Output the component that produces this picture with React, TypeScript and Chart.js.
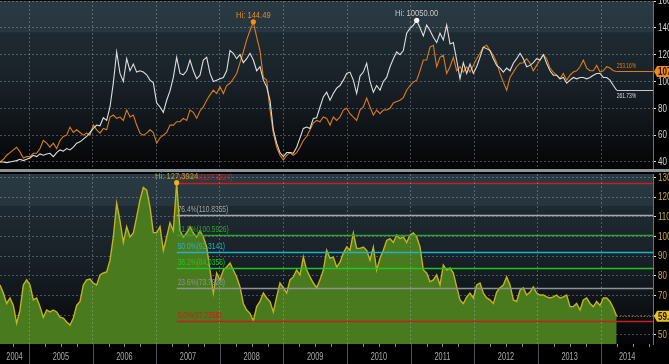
import React, { useEffect, useRef } from "react";
import { Chart, registerables } from "chart.js";

Chart.register(...registerables);

// ---- data ----
const START_YEAR = 2004.544;
const STEP_YEARS = 0.05241;
const X_MAX = 2014.811;

const yearLabels = ["2004", "2005", "2006", "2007", "2008", "2009", "2010", "2011", "2012", "2013", "2014"];
const topTicks = [40, 60, 80, 100, 120, 140, 160];
const bottomTicks = [50, 60, 70, 80, 90, 100, 110, 120, 130];

const whiteSeries = [
  40, 40, 39.5, 40, 40.5, 41, 42, 41, 42, 43,
  45, 44, 46, 45, 46, 46.5, 44, 47, 49, 48,
  50, 49, 51, 54, 55, 57, 59, 62, 65, 67.5,
  67, 73, 71, 81, 99, 122, 106, 100, 117, 108,
  113, 107, 108, 107, 105, 101, 99, 84, 81, 77,
  86, 93, 103, 118, 106, 105, 108, 116, 108, 102,
  104.7, 116, 118, 106, 100, 101, 102, 103, 108, 123,
  121, 117, 120, 114, 117, 121, 116, 108, 111, 101,
  96, 86, 64, 54, 47, 44, 47, 47, 46.5, 51,
  58, 65, 66, 65, 72.5, 73, 81, 88.5, 92, 86,
  91, 95, 97, 101, 106, 107, 101, 91, 104, 107,
  113.6, 100, 92, 97, 93.5, 100, 103, 111, 117, 122,
  120, 123, 136, 139.6, 142, 145.6, 140, 134, 142, 138,
  133, 129, 136, 131, 142, 128, 129, 116, 102, 114,
  106, 113, 106, 111, 118, 125.6, 124.5, 123, 117, 112,
  110, 107, 110, 108, 113.6, 117, 121, 117, 111, 112,
  114, 117, 116, 120, 113.6, 108, 104.7, 104.7, 102, 103,
  98.7, 101, 103, 102, 103, 103, 102, 103, 104.7, 106,
  106, 103, 103, 101, 97, 93.5,
];

const orangeSeries = [
  40, 42, 45, 47, 49, 51, 47.5, 43, 44, 44,
  46.5, 46.5, 50, 56, 54, 51, 54, 50, 56, 59,
  60, 66, 62, 64, 62, 60, 61.5, 60, 67.5, 64,
  61.5, 65, 64, 73.5, 75, 72.5, 73.5, 71, 78.7, 73.5,
  75, 67.5, 61.5, 60, 61.5, 64, 62, 54, 58, 60,
  62, 67.5, 67.5, 70, 70, 72.5, 71, 78.7, 77, 72.5,
  78, 81, 86, 90, 93.5, 91, 96, 91, 97, 98.7,
  102, 106, 114, 122, 131, 138, 144.49, 133, 123, 103,
  101, 78.7, 61.5, 51, 45, 41.5, 45, 47, 45, 47,
  51, 56, 59, 64, 69, 71, 70, 73.5, 72.5, 67.5,
  73.5, 71, 73.5, 78.7, 80, 76, 73.5, 71, 78.7, 81,
  87.6, 81, 75, 78.7, 76, 78.7, 78.7, 80, 84, 85,
  86, 88, 93.5, 97, 99.5, 101, 108, 116, 116, 125.6,
  127, 111, 118, 119.6, 106, 111, 118, 108, 111, 107,
  111, 107, 112, 117, 121, 125.6, 127, 123, 119.6, 114,
  106, 99.5, 93.5, 103, 107, 111, 113.6, 114, 117, 113.6,
  108, 112, 116, 120, 117, 110, 107, 104.7, 102, 106,
  101, 104.7, 107, 108, 111, 116, 110, 108, 108, 112,
  107, 108, 111, 110, 108, 107.5,
];

const ratioSeries = [
  75.4, 71.3, 66, 68.8, 65, 56, 62.7, 75.4, 78, 75.4,
  67.8, 68.8, 64.4, 59, 62.7, 61.7, 62.7, 61.7, 59, 58.6,
  56.6, 55, 58.6, 65, 67, 75.4, 78, 78.4, 76.4, 75.4,
  80.5, 81.5, 82, 88, 99.8, 117, 108, 97, 105, 99.8,
  101.8, 110, 118.6, 125, 123.6, 115, 102, 102, 105, 93,
  99.8, 107, 103, 127.3924, 103, 99.8, 101.8, 105, 101.8, 99.8,
  103, 99.8, 94.7, 83, 71.3, 81.5, 78, 83, 84.5, 86.5,
  83, 79.5, 74.4, 66, 62.7, 61, 57.2358, 64.4, 67, 71.3,
  68.8, 67, 61.7, 69.3, 76.4, 74, 71.3, 78, 79.5, 83,
  80.5, 89.6, 83, 79.5, 76.4, 74, 78, 83, 93, 89,
  89.6, 84.5, 87, 91.6, 94.7, 93, 101.8, 94, 94, 94.7,
  93, 88, 94.7, 83, 89, 93, 98, 99, 97, 100.8,
  99, 99.8, 97, 100.8, 101.8, 99.8, 94.7, 83, 81.5, 77,
  78, 80.5, 75.4, 85.5, 83, 84, 81.5, 74.4, 67.8, 66,
  69.3, 71.3, 68.8, 75.4, 76.4, 71.3, 68.8, 67.8, 66, 71.8,
  74, 75.4, 79.5, 75.4, 67.8, 67, 72.8, 74, 70.3, 71.8,
  74.4, 71.3, 70.3, 70.3, 69.3, 68.8, 69.3, 70.3, 68.8, 69.3,
  70.3, 64.4, 64.4, 66, 62.7, 67.8, 68.8, 66, 64.4, 67,
  65, 68.8, 68.8, 67, 63.7, 59.5,
];

const dates = whiteSeries.map((_, i) => START_YEAR + i * STEP_YEARS);

const fibPercents = ["0.0", "23.6", "38.2", "50.0", "61.8", "76.4", "100.0"];
const fibValues = [57.2358, 73.7928, 84.0356, 92.3141, 100.5926, 110.8355, 127.3924];
const fibColors = ["#c81e1e", "#8d9297", "#22c422", "#22b2c8", "#33a033", "#a3a8ad", "#c81e1e"];

const whiteHiText = "Hi: 10050.00";
const orangeHiText = "Hi: 144.49";
const ratioHiText = "Hi: 127.3924";
const whiteChangeText = "261.73%";
const orangeChangeText = "253.16%";

// ---- styles ----
const FONT = "'Liberation Sans', Arial, sans-serif";
const WHITE = "#dedede";
const ORANGE = "#dc7d18";
const YELLOW = "#c4b21e";
const GREEN = "#4a7a1e";
const GRID = "rgba(170,180,190,0.38)";

const pts = (arr: number[]) => arr.map((v, i) => ({ x: dates[i], y: v }));
const argMax = (arr: number[]) => arr.reduce((b, v, i) => (v > arr[b] ? i : b), 0);

function narrowText(
  ctx: CanvasRenderingContext2D,
  text: string,
  x: number,
  y: number,
  size: number,
  color: string,
  align: CanvasTextAlign,
  baseline: CanvasTextBaseline,
  sx: number,
  weight = "normal"
) {
  ctx.save();
  ctx.font = `${weight} ${size}px ${FONT}`;
  ctx.fillStyle = color;
  ctx.textAlign = align;
  ctx.textBaseline = baseline;
  ctx.translate(x, y);
  ctx.scale(sx, 1);
  ctx.fillText(text, 0, 0);
  ctx.restore();
}

function paintBackground(chart: any) {
  const { ctx, chartArea: a, width, height } = chart;
  ctx.save();
  ctx.fillStyle = "#000";
  ctx.fillRect(0, 0, width, height);
  const g = ctx.createLinearGradient(0, a.top, 0, a.bottom);
  g.addColorStop(0, "#2a3a42");
  g.addColorStop(0.185, "#27363e");
  g.addColorStop(0.19, "#1e2a31");
  g.addColorStop(0.5, "#182127");
  g.addColorStop(0.75, "#0f1418");
  g.addColorStop(0.9, "#080a0d");
  g.addColorStop(1, "#040506");
  ctx.fillStyle = g;
  ctx.fillRect(a.left, a.top, a.right - a.left, a.bottom - a.top);
  ctx.restore();
}

function drawYLabels(chart: any, ticksArr: number[], color: string) {
  const { ctx, scales, chartArea: a } = chart;
  ticksArr.forEach((v) => {
    narrowText(ctx, String(v), a.right + 5, scales.y.getPixelForValue(v) + 0.5, 10, color, "left", "middle", 0.8);
  });
}

function drawValueBox(ctx: CanvasRenderingContext2D, x: number, y: number, text: string, bg: string) {
  ctx.save();
  const w = 20;
  const h = 11;
  ctx.fillStyle = bg;
  ctx.beginPath();
  ctx.moveTo(x, y);
  ctx.lineTo(x + 3, y - h / 2);
  ctx.lineTo(x + 3 + w, y - h / 2);
  ctx.lineTo(x + 3 + w, y + h / 2);
  ctx.lineTo(x + 3, y + h / 2);
  ctx.closePath();
  ctx.fill();
  ctx.restore();
  narrowText(ctx, text, x + 4, y + 0.5, 10, "#1a1200", "left", "middle", 0.8, "bold");
}

function drawHi(ctx: CanvasRenderingContext2D, px: number, py: number, dot: string, textColor: string, text: string) {
  ctx.save();
  ctx.fillStyle = dot;
  ctx.beginPath();
  ctx.arc(px, py, 2.6, 0, Math.PI * 2);
  ctx.fill();
  ctx.restore();
  narrowText(ctx, text, px, py - 2, 9.5, textColor, "center", "bottom", 0.8);
}

const bgPlugin = { id: "bgPlugin", beforeDraw: (chart: any) => paintBackground(chart) };

const topOverlay = {
  id: "topOverlay",
  afterDatasetsDraw(chart: any) {
    const { ctx, scales, chartArea: a } = chart;
    const x = scales.x;
    const y = scales.y;
    const last = dates.length - 1;
    const xe = x.getPixelForValue(dates[last]);
    const yo = Math.round(y.getPixelForValue(orangeSeries[last])) + 0.5;
    const yw = Math.round(y.getPixelForValue(whiteSeries[last])) + 0.5;
    ctx.save();
    ctx.lineWidth = 1;
    ctx.strokeStyle = ORANGE;
    ctx.beginPath();
    ctx.moveTo(xe, yo);
    ctx.lineTo(a.right, yo);
    ctx.stroke();
    ctx.strokeStyle = "#c8c8c8";
    ctx.beginPath();
    ctx.moveTo(xe, yw);
    ctx.lineTo(a.right, yw);
    ctx.stroke();
    ctx.restore();
    narrowText(ctx, orangeChangeText, xe, yo - 1.5, 7.5, ORANGE, "left", "bottom", 0.66);
    narrowText(ctx, whiteChangeText, xe, yw + 2, 7.5, "#d8d8d8", "left", "top", 0.66);

    const oi = argMax(orangeSeries);
    drawHi(ctx, x.getPixelForValue(dates[oi]), y.getPixelForValue(orangeSeries[oi]), "#f39020", "#e08a2a", orangeHiText);
    const wi = argMax(whiteSeries);
    drawHi(ctx, x.getPixelForValue(dates[wi]), y.getPixelForValue(whiteSeries[wi]), "#ffffff", "#c8c8c8", whiteHiText);
  },
  afterDraw(chart: any) {
    const { ctx, scales, chartArea: a } = chart;
    drawYLabels(chart, topTicks, "#d2d2d2");
    const last = orangeSeries.length - 1;
    drawValueBox(ctx, a.right + 1, scales.y.getPixelForValue(orangeSeries[last]), orangeSeries[last].toFixed(2), "#f28a1c");
  },
};

const bottomOverlay = {
  id: "bottomOverlay",
  afterDatasetsDraw(chart: any) {
    const { ctx, scales, chartArea: a } = chart;
    const x = scales.x;
    const y = scales.y;
    const hi = argMax(ratioSeries);
    const xh = x.getPixelForValue(dates[hi]);
    fibValues.forEach((v, k) => {
      const py = Math.round(y.getPixelForValue(v)) + 0.5;
      ctx.save();
      ctx.strokeStyle = fibColors[k];
      ctx.lineWidth = 1.5;
      ctx.beginPath();
      ctx.moveTo(xh, py);
      ctx.lineTo(a.right, py);
      ctx.stroke();
      ctx.restore();
      narrowText(ctx, `${fibPercents[k]}%(${v.toFixed(4)})`, xh + 1, py - 1, 9, fibColors[k], "left", "bottom", 0.74);
    });
    // last value guide
    const last = ratioSeries.length - 1;
    const xe = x.getPixelForValue(dates[last]);
    const ye = Math.round(y.getPixelForValue(ratioSeries[last])) + 0.5;
    ctx.save();
    ctx.strokeStyle = "#d88a1c";
    ctx.lineWidth = 1;
    ctx.setLineDash([1, 2]);
    ctx.beginPath();
    ctx.moveTo(xe, ye);
    ctx.lineTo(a.right, ye);
    ctx.stroke();
    ctx.restore();
    drawHi(ctx, xh, y.getPixelForValue(ratioSeries[hi]), "#f0b020", "#a99d35", ratioHiText);
  },
  afterDraw(chart: any) {
    const { ctx, scales, chartArea: a, height } = chart;
    const x = scales.x;
    ctx.save();
    // year separators in the axis band
    ctx.strokeStyle = "#4a5056";
    ctx.lineWidth = 1;
    for (let yr = 2005; yr <= 2014; yr++) {
      const px = Math.round(x.getPixelForValue(yr)) + 0.5;
      ctx.beginPath();
      ctx.moveTo(px, a.bottom);
      ctx.lineTo(px, height);
      ctx.stroke();
    }
    // minor quarterly ticks
    ctx.strokeStyle = "#8a9096";
    for (let q = Math.ceil(START_YEAR * 4); q / 4 <= X_MAX; q++) {
      if (q % 4 === 0) continue;
      const px = Math.round(x.getPixelForValue(q / 4)) + 0.5;
      ctx.beginPath();
      ctx.moveTo(px, a.bottom);
      ctx.lineTo(px, a.bottom + 3);
      ctx.stroke();
    }
    ctx.restore();
    // year labels, centred in the visible part of each year
    yearLabels.forEach((lab) => {
      const yr = Number(lab);
      const lo = Math.max(yr, START_YEAR);
      const hiY = Math.min(yr + 1, X_MAX);
      if (hiY <= lo) return;
      const cx = x.getPixelForValue((lo + hiY) / 2);
      narrowText(ctx, lab, cx, a.bottom + 13, 10.5, "#ababab", "center", "middle", 0.7);
    });
    drawYLabels(chart, bottomTicks, "#c9aa3c");
    const last = ratioSeries.length - 1;
    drawValueBox(ctx, a.right + 1, scales.y.getPixelForValue(ratioSeries[last]), ratioSeries[last].toFixed(2), "#e6c22a");
  },
};

const yearBoundaries = () => {
  const t: number[] = [];
  for (let yr = Math.ceil(START_YEAR); yr <= Math.floor(X_MAX); yr++) t.push(yr);
  return t;
};

function yAxis(min: number, max: number, ticksArr: number[]) {
  return {
    type: "linear",
    position: "right",
    min,
    max,
    afterBuildTicks: (s: any) => {
      s.ticks = ticksArr.map((v) => ({ value: v }));
    },
    afterFit: (s: any) => {
      s.width = 16;
      s.paddingTop = 0;
      s.paddingBottom = 0;
    },
    ticks: { display: false },
    grid: { color: GRID, lineWidth: 1, tickColor: "#e0e0e0", tickLength: 3, tickWidth: 1 },
    border: { display: true, color: "#6b7278", width: 1, dash: [2, 2] },
  };
}

function xAxis(height: number, gridZ: number) {
  return {
    type: "linear",
    min: START_YEAR,
    max: X_MAX,
    afterBuildTicks: (s: any) => {
      s.ticks = yearBoundaries().map((v) => ({ value: v }));
    },
    afterFit: (s: any) => {
      s.height = height;
      s.paddingLeft = 0;
      s.paddingRight = 0;
    },
    ticks: { display: false },
    grid: { color: GRID, drawTicks: false, z: gridZ },
    border: { display: false, dash: [2, 2] },
  };
}

function topConfig(): any {
  return {
    type: "line",
    data: {
      datasets: [
        { data: pts(whiteSeries), borderColor: WHITE, borderWidth: 1.1, pointRadius: 0, tension: 0, fill: false },
        { data: pts(orangeSeries), borderColor: ORANGE, borderWidth: 1.1, pointRadius: 0, tension: 0, fill: false },
      ],
    },
    options: {
      animation: false,
      responsive: false,
      maintainAspectRatio: false,
      layout: { padding: { top: 1, bottom: 1, left: 0, right: 0 } },
      plugins: { legend: { display: false }, tooltip: { enabled: false } },
      scales: {
        x: xAxis(0, -1),
        y: yAxis(35.5, 160, topTicks),
      },
    },
    plugins: [bgPlugin, topOverlay],
  };
}

function bottomConfig(): any {
  return {
    type: "line",
    data: {
      datasets: [
        {
          data: pts(ratioSeries),
          borderColor: YELLOW,
          borderWidth: 1.4,
          backgroundColor: GREEN,
          pointRadius: 0,
          tension: 0,
          fill: "start",
        },
      ],
    },
    options: {
      animation: false,
      responsive: false,
      maintainAspectRatio: false,
      layout: { padding: { top: 2, bottom: 0, left: 0, right: 0 } },
      plugins: { legend: { display: false }, tooltip: { enabled: false } },
      scales: {
        x: xAxis(20, 1),
        y: yAxis(45.4, 131.8, bottomTicks),
      },
    },
    plugins: [bgPlugin, bottomOverlay],
  };
}

export default function App() {
  const topRef = useRef<HTMLCanvasElement>(null);
  const botRef = useRef<HTMLCanvasElement>(null);
  useEffect(() => {
    const c1 = new Chart(topRef.current as HTMLCanvasElement, topConfig());
    const c2 = new Chart(botRef.current as HTMLCanvasElement, bottomConfig());
    return () => {
      c1.destroy();
      c2.destroy();
    };
  }, []);
  return (
    <div style={{ position: "fixed", left: 0, top: 0, width: 669, height: 364, background: "#000", overflow: "hidden" }}>
      <canvas ref={topRef} width={669} height={169} style={{ display: "block" }} />
      <div style={{ height: 3, background: "#8d9499" }} />
      <canvas ref={botRef} width={669} height={192} style={{ display: "block" }} />
    </div>
  );
}
